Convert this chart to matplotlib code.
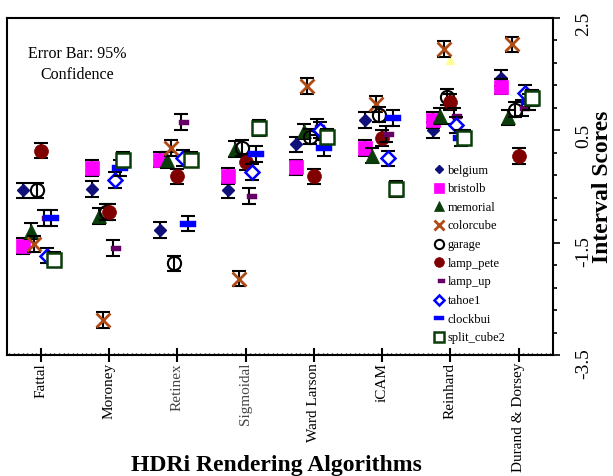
import numpy as np
import matplotlib
matplotlib.use("Agg")
import matplotlib.pyplot as plt
from matplotlib.lines import Line2D
from matplotlib.ticker import FixedLocator, MultipleLocator

plt.rcParams['font.family'] = ['Liberation Serif', 'DejaVu Serif']

algorithms = ["Fattal", "Moroney", "Retinex", "Sigmoidal",
              "Ward Larson", "iCAM", "Reinhard", "Durand & Dorsey"]

# interval scores per image (one value per algorithm)
belgium = [-0.57, -0.54, -1.28, -0.57, 0.25, 0.68, 0.50, 1.43]
bristolb = [-1.56, -0.17, -0.02, -0.31, -0.16, 0.18, 0.68, 1.28]
memorial = [-1.29, -1.03, -0.03, 0.17, 0.48, 0.05, 0.76, 0.73]
colorcube = [-1.53, -2.88, 0.18, -2.14, 1.29, 0.97, 1.95, 2.03]
garage = [-0.57, -0.95, -1.87, 0.18, 0.39, 0.78, 1.09, 0.87]
lamp_pete = [0.14, -0.95, -0.32, -0.06, -0.32, 0.36, 1.00, 0.04]
lamp_up = [-1.06, -1.59, 0.65, -0.67, 0.56, 0.44, 0.75, 0.90]
tahoe1 = [-1.73, -0.39, 0.01, -0.24, 0.51, 0.00, 0.60, 1.16]
clockbui = [-1.06, -0.17, -1.16, 0.08, 0.18, 0.72, 0.36, 1.00]
split_cube2 = [-1.80, -0.02, -0.02, 0.54, 0.39, -0.55, 0.37, 1.07]
ci95 = 0.14

# odd pale triangle near Reinhard
stray_algo = "Reinhard"
stray_val = 1.75

y_ticks = [-3.5, -1.5, 0.5, 2.5]
y_labels = ["-3.5", "-1.5", "0.5", "2.5"]

small_rect = [(-0.2, -0.3), (1, -0.3), (1, 0.3), (-0.2, 0.3), (-0.2, -0.3)]
wide_rect = [(-1, -0.38), (1, -0.38), (1, 0.38), (-1, 0.38), (-1, -0.38)]

series = [
    ("belgium", belgium, -0.256, dict(marker='D', ms=6.5, mfc='#10107A', mec='#10107A', mew=1)),
    ("bristolb", bristolb, -0.256, dict(marker='s', ms=10.5, mfc='#FF00FF', mec='#FF00FF', mew=0.5)),
    ("memorial", memorial, -0.151, dict(marker='^', ms=10, mfc='#0B3D0B', mec='#0B3D0B', mew=0.5)),
    ("colorcube", colorcube, -0.095, dict(marker='x', ms=10, mec='#B04A14', mew=2)),
    ("garage", garage, -0.051, dict(marker='o', ms=9.5, mfc='none', mec='black', mew=1.5)),
    ("lamp_pete", lamp_pete, 0.0, dict(marker='o', ms=10, mfc='#800000', mec='#800000', mew=0.5)),
    ("lamp_up", lamp_up, 0.054, dict(marker=small_rect, ms=12, mfc='#660066', mec='#660066', mew=0.3)),
    ("tahoe1", tahoe1, 0.088, dict(marker='D', ms=7, mfc='white', mec='#0000FF', mew=1.8)),
    ("clockbui", clockbui, 0.154, dict(marker=wide_rect, ms=11.3, mfc='#0000FF', mec='#0000FF', mew=0.3)),
    ("split_cube2", split_cube2, 0.20, dict(marker='s', ms=10, mfc='white', mec='#0B3D0B', mew=1.8)),
]

x = np.arange(1, len(algorithms) + 1)

fig = plt.figure(figsize=(6.13, 4.76), dpi=100)
ax = fig.add_axes([0.0109, 0.2542, 0.8907, 0.708])

for i, (name, vals, off, st) in enumerate(series):
    z = 2 + i * 0.1
    ax.errorbar(x + off, vals, yerr=ci95, fmt='none', ecolor='black',
                elinewidth=1.5, capsize=5, capthick=1.5, zorder=z)
    ax.plot(x + off, vals, linestyle='none', zorder=z + 0.05, **st)

ax.plot([algorithms.index(stray_algo) + 1], [stray_val], linestyle='none',
        marker='^', ms=6, mfc='#FFFF99', mec='#FFFF99', zorder=1.5)

handles = [Line2D([], [], linestyle='none', **st) for _, _, _, st in series]
labels = [s[0] for s in series]
ax.legend(handles, labels, loc='center left', bbox_to_anchor=(0.78, 0.2985),
          frameon=False, fontsize=9, markerscale=0.7, handlelength=1.0,
          handletextpad=0.2, labelspacing=0.53, borderpad=0, borderaxespad=0)

ax.set_xlim(0.5, len(algorithms) + 0.5)
ax.set_ylim(-3.5, 2.5)

ax.set_xticks(x)
ax.set_xticklabels(algorithms, rotation=90)
for lab in ax.get_xticklabels():
    if lab.get_text() in ("Retinex", "Sigmoidal"):
        lab.set_color('#444444')
ax.xaxis.set_minor_locator(MultipleLocator(1 / 15))
ax.tick_params(axis='x', which='major', direction='inout', length=9.5,
               width=1.5, labelsize=11, pad=1)
ax.tick_params(axis='x', which='minor', direction='in', length=1.5, width=1)

ax.yaxis.tick_right()
ax.yaxis.set_major_locator(FixedLocator(y_ticks))
ax.set_yticklabels(y_labels)
ax.yaxis.set_minor_locator(FixedLocator(np.arange(-3.5, 2.51, 0.4)))
ax.tick_params(axis='y', which='major', direction='out', length=5, width=1.2,
               labelsize=14, labelrotation=90, pad=11)
ax.tick_params(axis='y', which='minor', direction='out', length=3, width=1.2)

for sp in ax.spines.values():
    sp.set_linewidth(1.5)

ax.text(0.13, 0.862, "Error Bar: 95%\nConfidence", transform=ax.transAxes,
        ha='center', va='center', fontsize=11.5, linespacing=1.4)

fig.text(276 / 613, 1 - 465 / 476, "HDRi Rendering Algorithms",
         ha='center', va='center', fontsize=17, fontweight='bold')
fig.text(603 / 613, 1 - 187 / 476, "Interval Scores", rotation=90,
         ha='center', va='center', fontsize=17, fontweight='bold')

fig.savefig("out.png", dpi=100)
